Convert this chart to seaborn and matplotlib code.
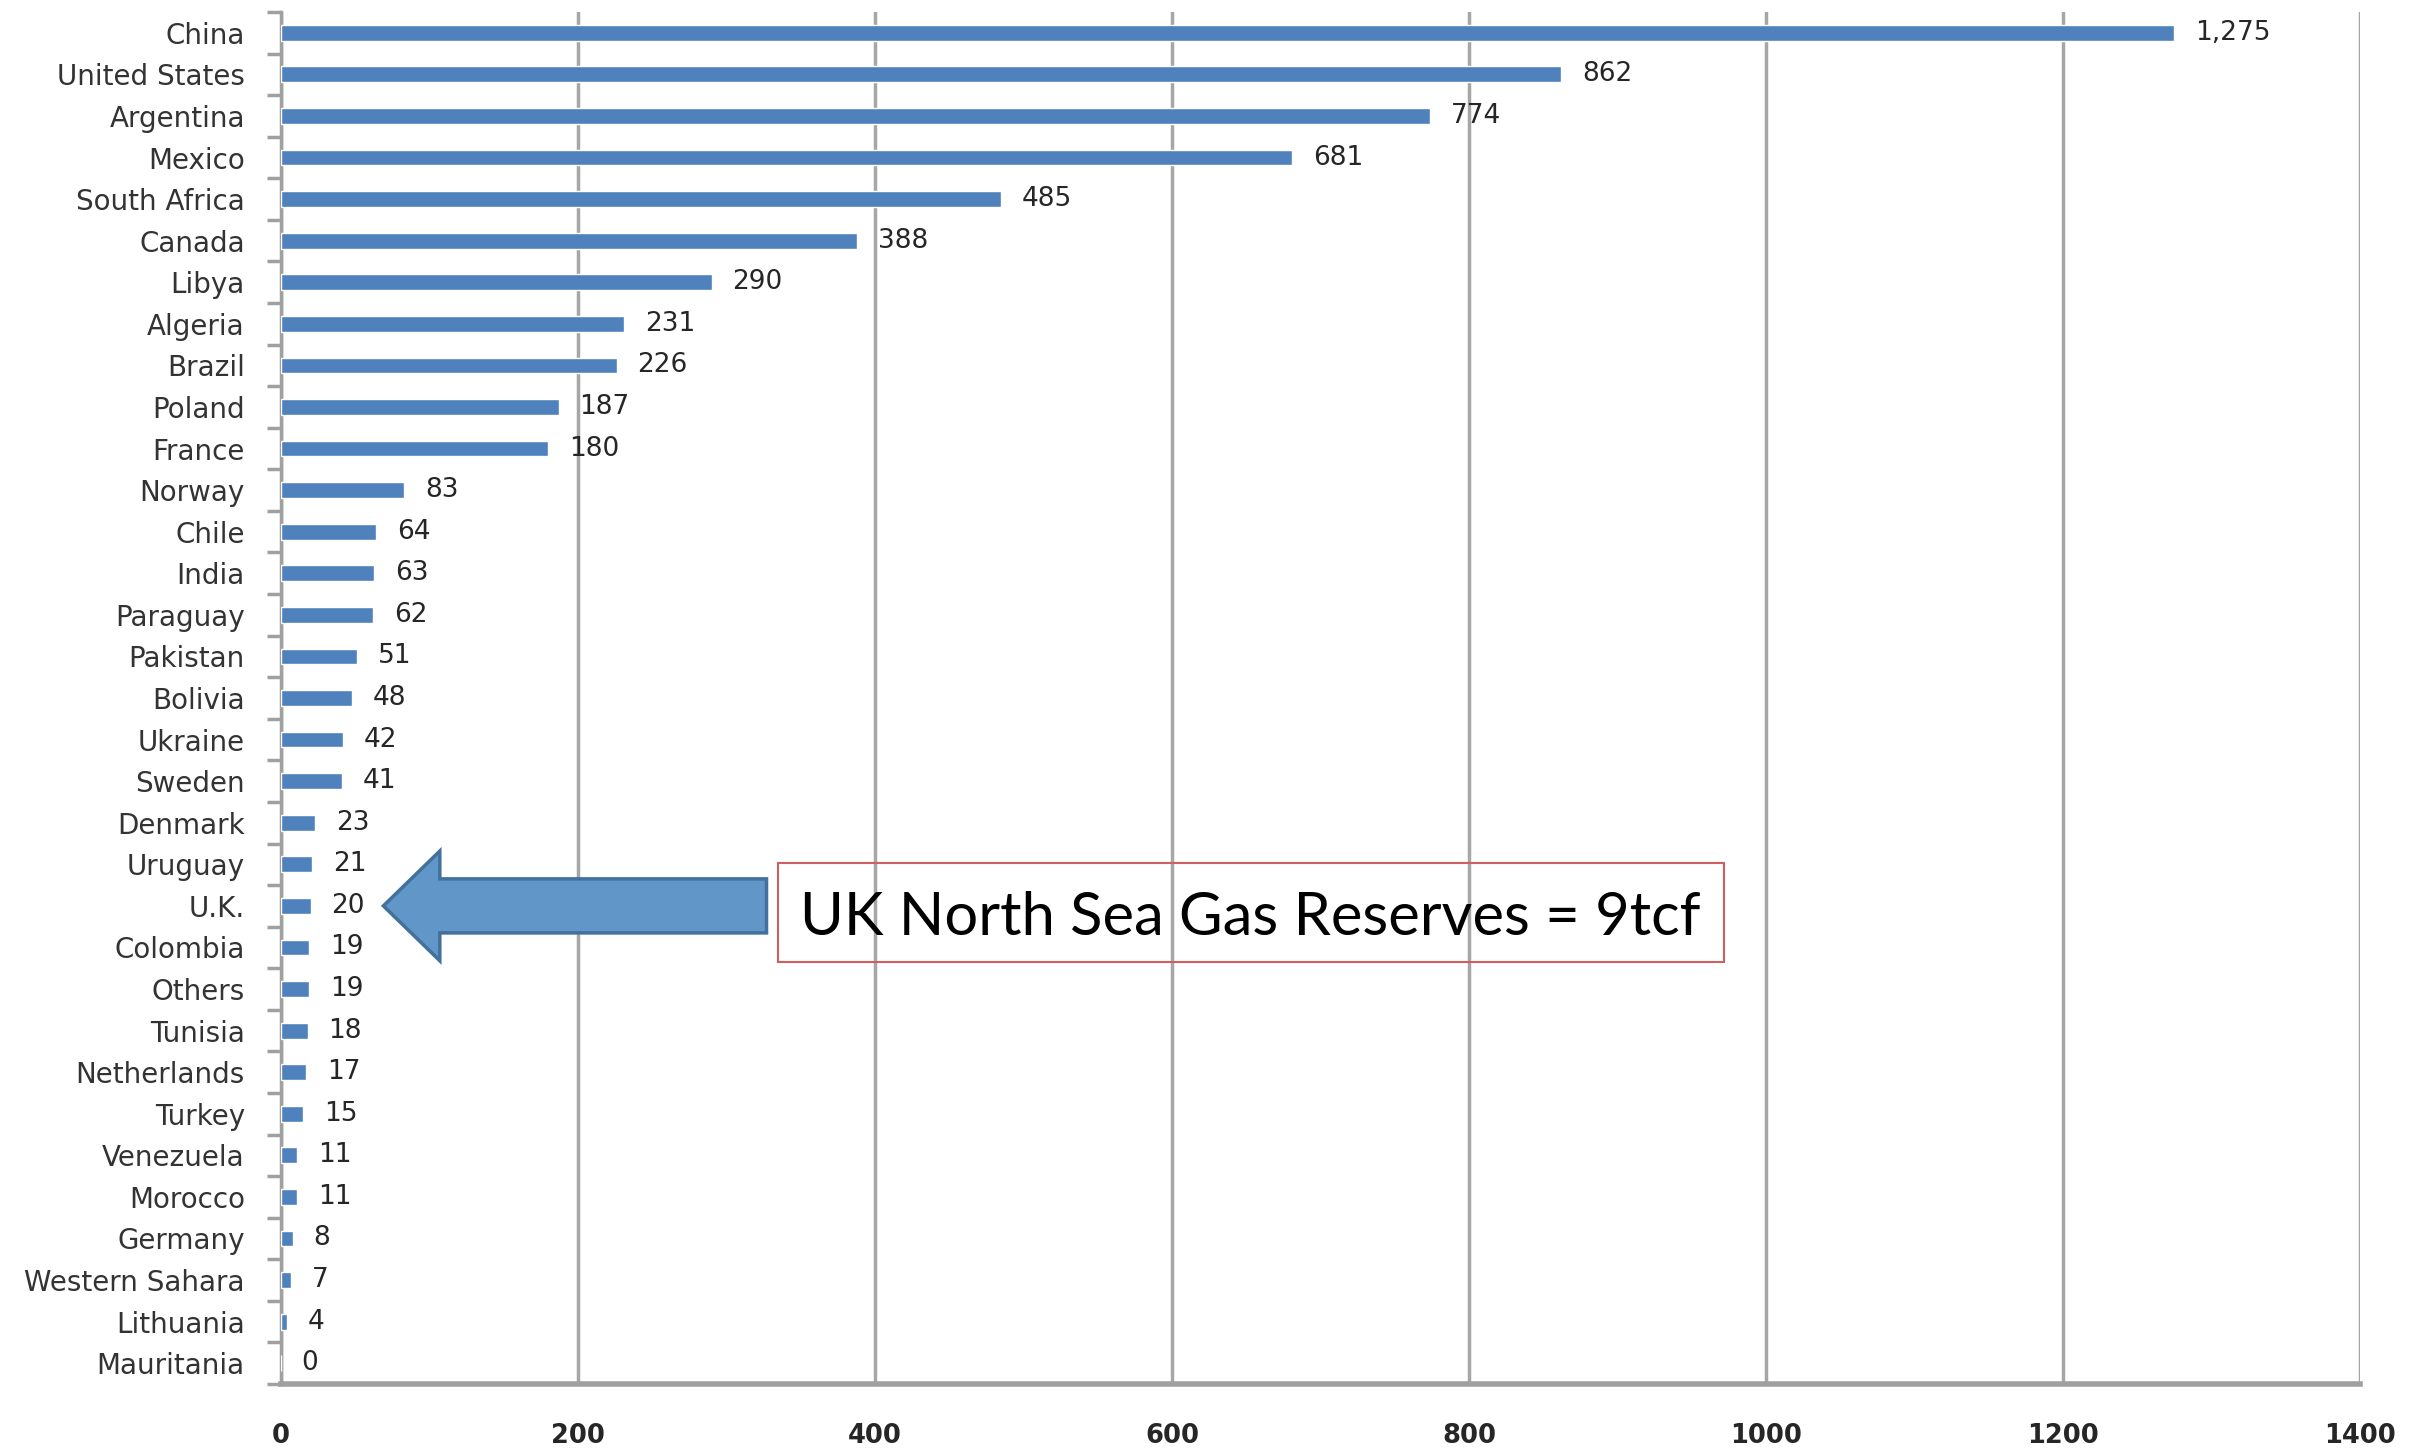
import numpy as np
import pandas as pd
import seaborn as sns
import matplotlib.pyplot as plt
from matplotlib.patches import FancyArrow, Rectangle

countries = ["China", "United States", "Argentina", "Mexico", "South Africa", "Canada",
             "Libya", "Algeria", "Brazil", "Poland", "France", "Norway", "Chile", "India",
             "Paraguay", "Pakistan", "Bolivia", "Ukraine", "Sweden", "Denmark", "Uruguay",
             "U.K.", "Colombia", "Others", "Tunisia", "Netherlands", "Turkey", "Venezuela",
             "Morocco", "Germany", "Western Sahara", "Lithuania", "Mauritania"]
reserves = [1275, 862, 774, 681, 485, 388, 290, 231, 226, 187, 180, 83, 64, 63, 62, 51,
            48, 42, 41, 23, 21, 20, 19, 19, 18, 17, 15, 11, 11, 8, 7, 4, 0]
x_ticks = [0, 200, 400, 600, 800, 1000, 1200, 1400]
annotation_text = "UK North Sea Gas Reserves = 9tcf"
highlight = "U.K."

sns.set_theme(style="white")
plt.rcParams['font.family'] = ['DejaVu Sans']

fig = plt.figure(figsize=(24.3, 14.48), dpi=100)
ax = fig.add_axes([0.1156, 0.0442, 0.9712 - 0.1156, 0.9917 - 0.0442])

df = pd.DataFrame({"country": countries, "reserves": reserves})
sns.barplot(data=df, x="reserves", y="country", order=countries, color="#4F81BD",
            saturation=1, width=0.38, ax=ax, zorder=3)

ax.bar_label(ax.containers[0], labels=[f"{v:,}" for v in reserves], padding=15,
             fontsize=19, color="#262626")

ax.set_xlim(0, 1400)
ax.set_ylim(len(countries) - 0.5, -0.5)
ax.set_xlabel("")
ax.set_ylabel("")

ax.set_xticks(x_ticks)
ax.set_xticklabels([str(t) for t in x_ticks], fontweight="bold")
ax.tick_params(axis="x", length=11, width=2.5, color="#a0a0a0", pad=17,
               labelsize=18.5, labelcolor="#262626")
ax.xaxis.grid(True, color="#a6a6a6", lw=2.5)
ax.set_axisbelow(True)

ax.set_yticks(np.arange(-0.5, len(countries), 1), minor=True)
ax.tick_params(axis="y", which="major", length=0, pad=26, labelsize=20, labelcolor="#333333")
ax.tick_params(axis="y", which="minor", left=True, length=10, width=2.5, color="#a0a0a0")

for s in ["top", "right"]:
    ax.spines[s].set_visible(False)
ax.spines["left"].set_color("#a0a0a0")
ax.spines["left"].set_linewidth(2.5)
ax.spines["bottom"].set_color("#a0a0a0")
ax.spines["bottom"].set_linewidth(4)

yi = countries.index(highlight)
arrow = FancyArrow(327, yi, -258, 0, width=1.3, head_width=2.64, head_length=38,
                   length_includes_head=True, fc="#6196C8", ec="#41719C", lw=2.5, zorder=5)
ax.add_patch(arrow)

box = Rectangle((335, yi - 1.02), 637, 2.38, facecolor="none", edgecolor="#d06060",
                lw=1.5, zorder=5)
ax.add_patch(box)
ax.text(653, yi + 0.3, annotation_text, ha="center", va="center", fontsize=43,
        family=["Lato", "DejaVu Sans"], color="black", zorder=6)

fig.savefig("out.png", dpi=100)
